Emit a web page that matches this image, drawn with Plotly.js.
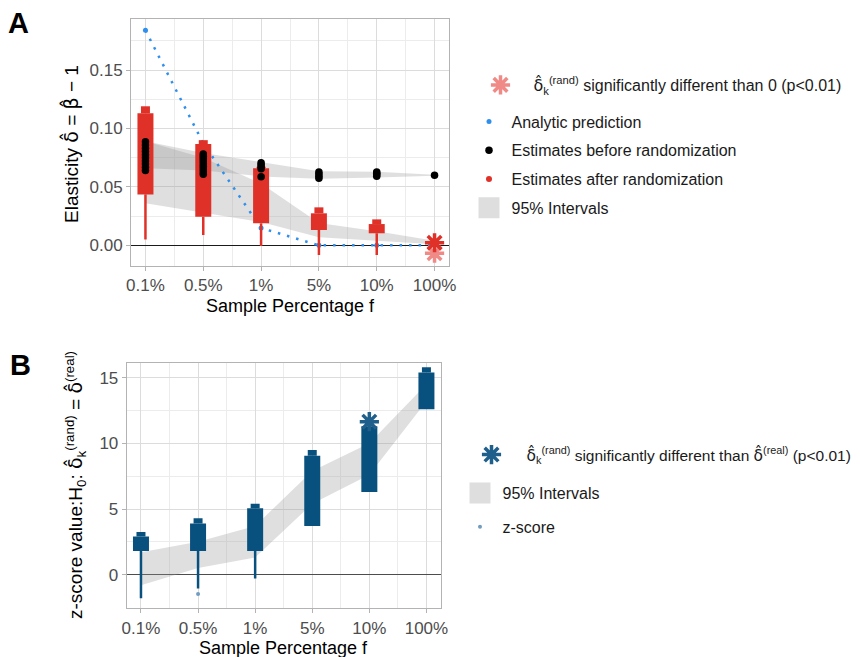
<!DOCTYPE html>
<html><head><meta charset="utf-8">
<script src="https://cdn.plot.ly/plotly-3.0.1.min.js"></script>
<style>html,body{margin:0;padding:0;background:#fff;overflow:hidden}</style>
</head><body><div id="chart" style="width:860px;height:657px"></div>
<script>
// ---------- shared ----------
const categories = ['0.1%', '0.5%', '1%', '5%', '10%', '100%'];
const xIdx = categories.map((c, i) => i);
const minorX = [0.5, 1.5, 2.5, 3.5, 4.5];

// ---------- panel A data ----------
const analyticPred = [0.184, 0.0873, 0.0148, 0.0, 0.0, 0.0];
const before01 = [0.0640, 0.0668, 0.0695, 0.0722, 0.0749, 0.0776, 0.0803, 0.0830, 0.0858, 0.0887];
const before05 = [0.0608, 0.0630, 0.0653, 0.0676, 0.0699, 0.0721, 0.0744, 0.0763, 0.0781];
const before1 = [0.0587, 0.0655, 0.0672, 0.0690, 0.0706];
const before5 = [0.0575, 0.0592, 0.0610, 0.0627];
const before10 = [0.0592, 0.0604, 0.0616, 0.0628];
const before100 = [0.0600];
const afterMin = [0.005, 0.0088, -0.0006, -0.0083, -0.0083];
const afterQ1 = [0.0436, 0.0245, 0.0188, 0.0131, 0.0103];
const afterQ3 = [0.113, 0.0867, 0.066, 0.0274, 0.0182];
const afterMax = [0.119, 0.090, 0.0673, 0.0325, 0.0222];
const ribBeforeLo = [0.066, 0.064, 0.059, 0.057, 0.058, 0.0595];
const ribBeforeHi = [0.089, 0.079, 0.071, 0.0635, 0.063, 0.0605];
const ribAfterLo = [0.036, 0.028, 0.020, 0.007, 0.004, 0.001];
const ribAfterHi = [0.089, 0.075, 0.053, 0.019, 0.012, 0.004];
const sigA = [0.0022];          // at 100%
const sigAlight = [-0.0068];    // at 100%

// ---------- panel B data ----------
const zMin = [-1.8, -1.05, -0.3, 3.7, 6.3, 12.6];
const zQ1 = [1.8, 1.8, 1.8, 3.7, 6.3, 12.6];
const zQ3 = [2.9, 3.9, 5.05, 9.05, 11.3, 15.4];
const zMax = [3.25, 4.3, 5.4, 9.5, 11.3, 15.8];
const zOutlier = [-1.47];       // at 0.5%
const zRibLo = [-0.8, 0.5, 1.3, 5.4, 7.6, 13.2];
const zRibHi = [1.7, 2.5, 3.7, 7.9, 10.0, 14.5];
const zSig = [11.65];           // at 10%

// ---------- helpers ----------
function repeatX(idx, arr) { return arr.map(() => idx); }
function ribbon(lo, hi) {
  return {x: xIdx.concat(xIdx.slice().reverse()), y: lo.concat(hi.slice().reverse())};
}
function segments(lo, hi) {
  const x = [], y = [];
  lo.forEach((v, i) => { x.push(xIdx[i], xIdx[i], null); y.push(v, hi[i], null); });
  return {x: x, y: y};
}
const RED = '#e03128', BLUE = '#08507d', PINK = '#f08a86';
const ribFill = 'rgba(150,150,150,0.3)';
const FONT = 'Liberation Sans, Arial, sans-serif';
const HAT = s => '<span style="font-family:DejaVu Sans">' + s + '\u0302</span>';
const dHat = HAT('δ'), bHat = HAT('β');

const beforeX = [].concat(repeatX(0, before01), repeatX(1, before05), repeatX(2, before1),
  repeatX(3, before5), repeatX(4, before10), repeatX(5, before100));
const beforeY = [].concat(before01, before05, before1, before5, before10, before100);

const rA1 = ribbon(ribAfterLo, ribAfterHi);
const rA2 = ribbon(ribBeforeLo, ribBeforeHi);
const rB = ribbon(zRibLo, zRibHi);
const aTail = segments(afterMin, afterQ1), aBody = segments(afterQ1, afterQ3), aTop = segments(afterQ3, afterMax);
const zTail = segments(zMin, zQ1), zBody = segments(zQ1, zQ3), zTop = segments(zQ3, zMax);

function seg(s, ax, ay, color, w) {
  return {x: s.x, y: s.y, xaxis: ax, yaxis: ay, type: 'scatter', mode: 'lines', connectgaps: false,
    line: {color: color, width: w}, showlegend: false, hoverinfo: 'skip'};
}

const traces = [
  // Panel A
  {x: rA1.x, y: rA1.y, xaxis: 'x', yaxis: 'y', type: 'scatter', mode: 'lines', fill: 'toself',
   fillcolor: ribFill, line: {width: 0}, showlegend: false, hoverinfo: 'skip'},
  {x: rA2.x, y: rA2.y, xaxis: 'x', yaxis: 'y', type: 'scatter', mode: 'lines', fill: 'toself',
   fillcolor: ribFill, line: {width: 0}, showlegend: false, hoverinfo: 'skip'},
  {x: xIdx, y: analyticPred, xaxis: 'x', yaxis: 'y', type: 'scatter', mode: 'lines',
   line: {color: '#2f8fee', width: 2.5, dash: '2.5px,7px'}, showlegend: false, hoverinfo: 'skip'},
  {x: xIdx, y: analyticPred, xaxis: 'x', yaxis: 'y', type: 'scatter', mode: 'markers',
   marker: {color: '#2f8fee', size: 5}, name: 'Analytic prediction', legend: 'legend2', legendgroup: 'a1'},
  seg(aTail, 'x', 'y', RED, 2.5),
  seg(aBody, 'x', 'y', RED, 16),
  seg(aTop, 'x', 'y', RED, 9),
  {x: beforeX, y: beforeY, xaxis: 'x', yaxis: 'y', type: 'scatter', mode: 'markers',
   marker: {color: '#000', size: 7.5}, name: 'Estimates before randomization', legend: 'legend2', legendgroup: 'a2'},
  {x: [null], y: [null], xaxis: 'x', yaxis: 'y', type: 'scatter', mode: 'markers',
   marker: {color: RED, size: 6}, name: 'Estimates after randomization', legend: 'legend2', legendgroup: 'a3'},
  {x: [null], y: [null], xaxis: 'x', yaxis: 'y', type: 'scatter', mode: 'markers',
   marker: {color: '#dedede', size: 16, symbol: 'square', line: {color: '#dedede', width: 5}},
   name: '95% Intervals', legend: 'legend2', legendgroup: 'a4'},
  {x: repeatX(5, sigAlight), y: sigAlight, xaxis: 'x', yaxis: 'y', type: 'scatter', mode: 'markers',
   marker: {symbol: 'asterisk-open', size: 16, color: PINK, line: {color: PINK, width: 3.5}},
   name: dHat + '<sub>k</sub><sup>(rand)</sup> significantly different than 0 (p&lt;0.01)', legend: 'legend'},
  {x: repeatX(5, sigA), y: sigA, xaxis: 'x', yaxis: 'y', type: 'scatter', mode: 'markers',
   marker: {symbol: 'asterisk-open', size: 16, color: RED, line: {color: RED, width: 3.5}}, showlegend: false},

  // Panel B
  {x: rB.x, y: rB.y, xaxis: 'x2', yaxis: 'y2', type: 'scatter', mode: 'lines', fill: 'toself',
   fillcolor: ribFill, line: {width: 0}, showlegend: false, hoverinfo: 'skip'},
  seg(zTail, 'x2', 'y2', BLUE, 2.5),
  seg(zBody, 'x2', 'y2', BLUE, 16),
  seg(zTop, 'x2', 'y2', BLUE, 9),
  {x: repeatX(4, zSig), y: zSig, xaxis: 'x2', yaxis: 'y2', type: 'scatter', mode: 'markers',
   marker: {symbol: 'asterisk-open', size: 16, color: '#1f5f8b', line: {color: '#1f5f8b', width: 3.5}},
   name: dHat + '<sub>k</sub><sup>(rand)</sup> significantly different than ' + dHat + '<sup>(real)</sup> (p&lt;0.01)', legend: 'legend3'},
  {x: [null], y: [null], xaxis: 'x2', yaxis: 'y2', type: 'scatter', mode: 'markers',
   marker: {color: '#dedede', size: 16, symbol: 'square', line: {color: '#dedede', width: 5}},
   name: '95% Intervals', legend: 'legend4', legendgroup: 'b1'},
  {x: repeatX(1, zOutlier), y: zOutlier, xaxis: 'x2', yaxis: 'y2', type: 'scatter', mode: 'markers',
   marker: {color: '#6f9cc0', size: 4}, name: 'z-score', legend: 'legend4', legendgroup: 'b2'}
];

const gridMajor = '#dcdcdc', gridMinor = '#ececec', frame = '#b3b3b3';
function xAxis(domain, anchor) {
  return {domain: domain, anchor: anchor, range: [-0.25, 5.25], tickmode: 'array', tickvals: xIdx,
    ticktext: categories, showgrid: true, gridcolor: gridMajor, gridwidth: 1, zeroline: false,
    showline: true, mirror: true, linecolor: frame, linewidth: 1, ticks: 'outside', ticklen: 4,
    tickcolor: frame, tickfont: {family: FONT, size: 17, color: '#4d4d4d'},
    minor: {tickmode: 'array', tickvals: minorX, showgrid: true, gridcolor: gridMinor, gridwidth: 1, ticks: ''}};
}
function legendBox(x, y, yanchor, iw, gap, fs) {
  return {x: x, y: y, xanchor: 'left', yanchor: yanchor, xref: 'paper', yref: 'paper',
    itemwidth: iw, tracegroupgap: gap, bgcolor: 'rgba(0,0,0,0)', borderwidth: 0,
    font: {family: FONT, size: fs || 16, color: '#1a1a1a'}, traceorder: 'grouped', itemclick: false};
}
function ann(text, x, y, size, angle) {
  return {text: text, x: x / 860, y: 1 - y / 657, xref: 'paper', yref: 'paper', xanchor: 'center',
    yanchor: 'middle', showarrow: false, textangle: angle || 0, font: {family: FONT, size: size, color: '#000'}};
}

const layout = {
  width: 860, height: 657, margin: {l: 0, r: 0, t: 0, b: 0, autoexpand: false},
  paper_bgcolor: '#fff', plot_bgcolor: '#fff', showlegend: true,
  xaxis: xAxis([131 / 860, 449 / 860], 'y'),
  yaxis: {domain: [1 - 266 / 657, 1 - 19 / 657], anchor: 'x', range: [-0.0177, 0.1937],
    tickmode: 'array', tickvals: [0, 0.05, 0.10, 0.15], ticktext: ['0.00', '0.05', '0.10', '0.15'],
    showgrid: true, gridcolor: gridMajor, zeroline: true, zerolinecolor: '#1a1a1a', zerolinewidth: 1,
    showline: true, mirror: true, linecolor: frame, ticks: 'outside', ticklen: 4, tickcolor: frame,
    tickfont: {family: FONT, size: 17, color: '#4d4d4d'},
    minor: {tickmode: 'array', tickvals: [0.025, 0.075, 0.125, 0.175], showgrid: true, gridcolor: gridMinor, ticks: ''}},
  xaxis2: xAxis([126.7 / 860, 440.7 / 860], 'y2'),
  yaxis2: {domain: [1 - 608.3 / 657, 1 - 362.7 / 657], anchor: 'x2', range: [-2.56, 16.14],
    tickmode: 'array', tickvals: [0, 5, 10, 15],
    showgrid: true, gridcolor: gridMajor, zeroline: true, zerolinecolor: '#4d4d4d', zerolinewidth: 1,
    showline: true, mirror: true, linecolor: frame, ticks: 'outside', ticklen: 4, tickcolor: frame,
    tickfont: {family: FONT, size: 17, color: '#4d4d4d'},
    minor: {tickmode: 'array', tickvals: [-2.5, 2.5, 7.5, 12.5], showgrid: true, gridcolor: gridMinor, ticks: ''}},
  legend: legendBox(467.5 / 860, 1 - 85 / 657, 'middle', 56, 0, 16),
  legend2: legendBox(466.5 / 860, 1 - 165 / 657, 'middle', 35, 5, 16),
  legend3: legendBox(456.5 / 860, 1 - 455 / 657, 'middle', 60, 0, 15.5),
  legend4: legendBox(457.5 / 860, 1 - 510 / 657, 'middle', 35, 10, 16),
  annotations: [
    ann('<b>A</b>', 18.5, 22.5, 29),
    ann('<b>B</b>', 20, 365, 29),
    ann('Sample Percentage f', 290, 306, 18),
    ann('Sample Percentage f', 283.7, 648, 18),
    ann('Elasticity ' + dHat + ' = ' + bHat + ' − 1', 70, 144, 19, -90),
    ann('z-score value:H<sub>0</sub>: ' + dHat + '<sub>k</sub><sup>(rand)</sup> = ' + dHat + '<sup>(real)</sup>', 75, 485, 19, -90)
  ]
};

Plotly.newPlot('chart', traces, layout, {displayModeBar: false, staticPlot: true});
</script></body></html>
